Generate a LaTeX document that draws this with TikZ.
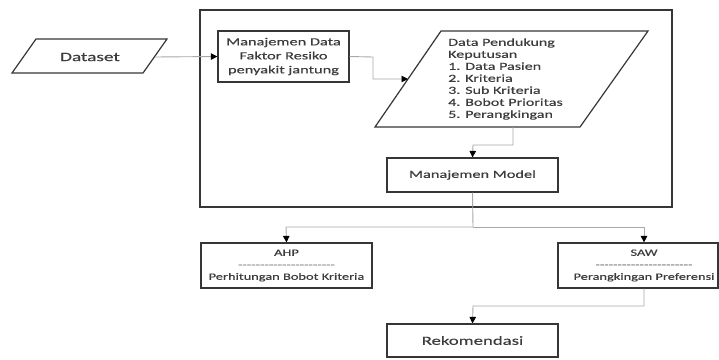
\documentclass[tikz,border=0pt]{standalone}
\usepackage{fontspec}
\setmainfont{Carlito}[FakeStretch=1.5,FakeBold=0.4]
\usetikzlibrary{arrows.meta}
\definecolor{edge}{HTML}{363636}
\definecolor{conn}{HTML}{A8A8A8}
\definecolor{txt}{HTML}{3C3C3C}
\definecolor{dsh}{HTML}{7A7A7A}
\begin{document}
\begin{tikzpicture}[x=1pt,y=-1pt,
  box/.style={draw=edge, line width=1.2pt, inner sep=0pt, text=txt, align=center},
  conn/.style={draw=conn, line width=0.9pt},
  arr/.style={conn, -{Triangle[length=6.5pt,width=6.5pt,color=black]}},
  lbl/.style={text=txt, inner sep=0pt, align=center}]
\useasboundingbox (0,0) rectangle (719,359);

% outer frame
\draw[draw=edge, line width=1.2pt] (200,10) rectangle (672,207);

% Dataset parallelogram
\coordinate (d1) at (36,39);
\coordinate (d2) at (167,39);
\coordinate (d3) at (143,73);
\coordinate (d4) at (12,73);
\draw[draw=edge, line width=1.2pt] (d1) -- (d2) -- (d3) -- (d4) -- cycle;
\node[lbl, font={\fontsize{12.8}{15}\selectfont}] (dataset) at (90,57) {Dataset};
\coordinate (dout) at (155,57);

% Manajemen Data
\node[box, minimum width=131pt, minimum height=51pt, font={\fontsize{10.9}{14}\selectfont}] (md) at (283.5,56.5)
  {Manajemen Data\\Faktor Resiko\\penyakit jantung};

% Data Pendukung parallelogram
\coordinate (p1) at (441,31);
\coordinate (p2) at (648,31);
\coordinate (p3) at (580,127);
\coordinate (p4) at (375,127);
\draw[draw=edge, line width=1.2pt] (p1) -- (p2) -- (p3) -- (p4) -- cycle;
\node[lbl, anchor=west, align=left, font={\fontsize{10.7}{12}\selectfont}] (dp) at (448,79)
  {Data Pendukung\\Keputusan\\1. Data Pasien\\2. Kriteria\\3. Sub Kriteria\\4. Bobot Prioritas\\5. Perangkingan};
\coordinate (pin) at (408,79);
\coordinate (pout) at (513,127);

% Manajemen Model
\node[box, minimum width=171pt, minimum height=34pt, font={\fontsize{10.9}{13}\selectfont}] (mm) at (472.5,175) {Manajemen Model};

% AHP
\node[box, minimum width=171pt, minimum height=45pt, font={\fontsize{9.6}{12}\selectfont}] (ahp) at (286.5,265.5)
  {AHP\\{\color{dsh}-{}-{}-{}-{}-{}-{}-{}-{}-{}-{}-{}-{}-{}-{}-{}-{}-{}-{}-{}-{}-{}-}\\Perhitungan Bobot Kriteria};

% SAW
\node[draw=edge, line width=1.2pt, minimum width=160pt, minimum height=45pt, inner sep=0pt] (saw) at (638,265.5) {};
\node[lbl, font={\fontsize{9.6}{12}\selectfont}] (sawt) at (644,265.5)
  {SAW\\{\color{dsh}-{}-{}-{}-{}-{}-{}-{}-{}-{}-{}-{}-{}-{}-{}-{}-{}-{}-{}-{}-{}-{}-}\\Perangkingan Preferensi};

% Rekomendasi
\node[box, minimum width=171pt, minimum height=33pt, font={\fontsize{12.5}{14}\selectfont}] (rek) at (472.5,340.5) {Rekomendasi};

% connectors
\draw[arr] (dout) -- (md.west);
\draw[arr] (md.east) -- (373,57) -- (373,79) -- (pin);
\draw[arr] (pout) -- (513,145) -- (473,145) -- (mm.north);
\coordinate (split) at (473,227);
\draw[conn] (mm.south) -- (split);
\draw[arr] (split) -- (286,227) -- (ahp.north);
\draw[arr] (split) -- (sawt.center |- 0,227) -- (sawt.center |- saw.north);
\draw[arr] (sawt.center |- saw.south) -- (644,306) -- (473,306) -- (rek.north);
\end{tikzpicture}
\end{document}
